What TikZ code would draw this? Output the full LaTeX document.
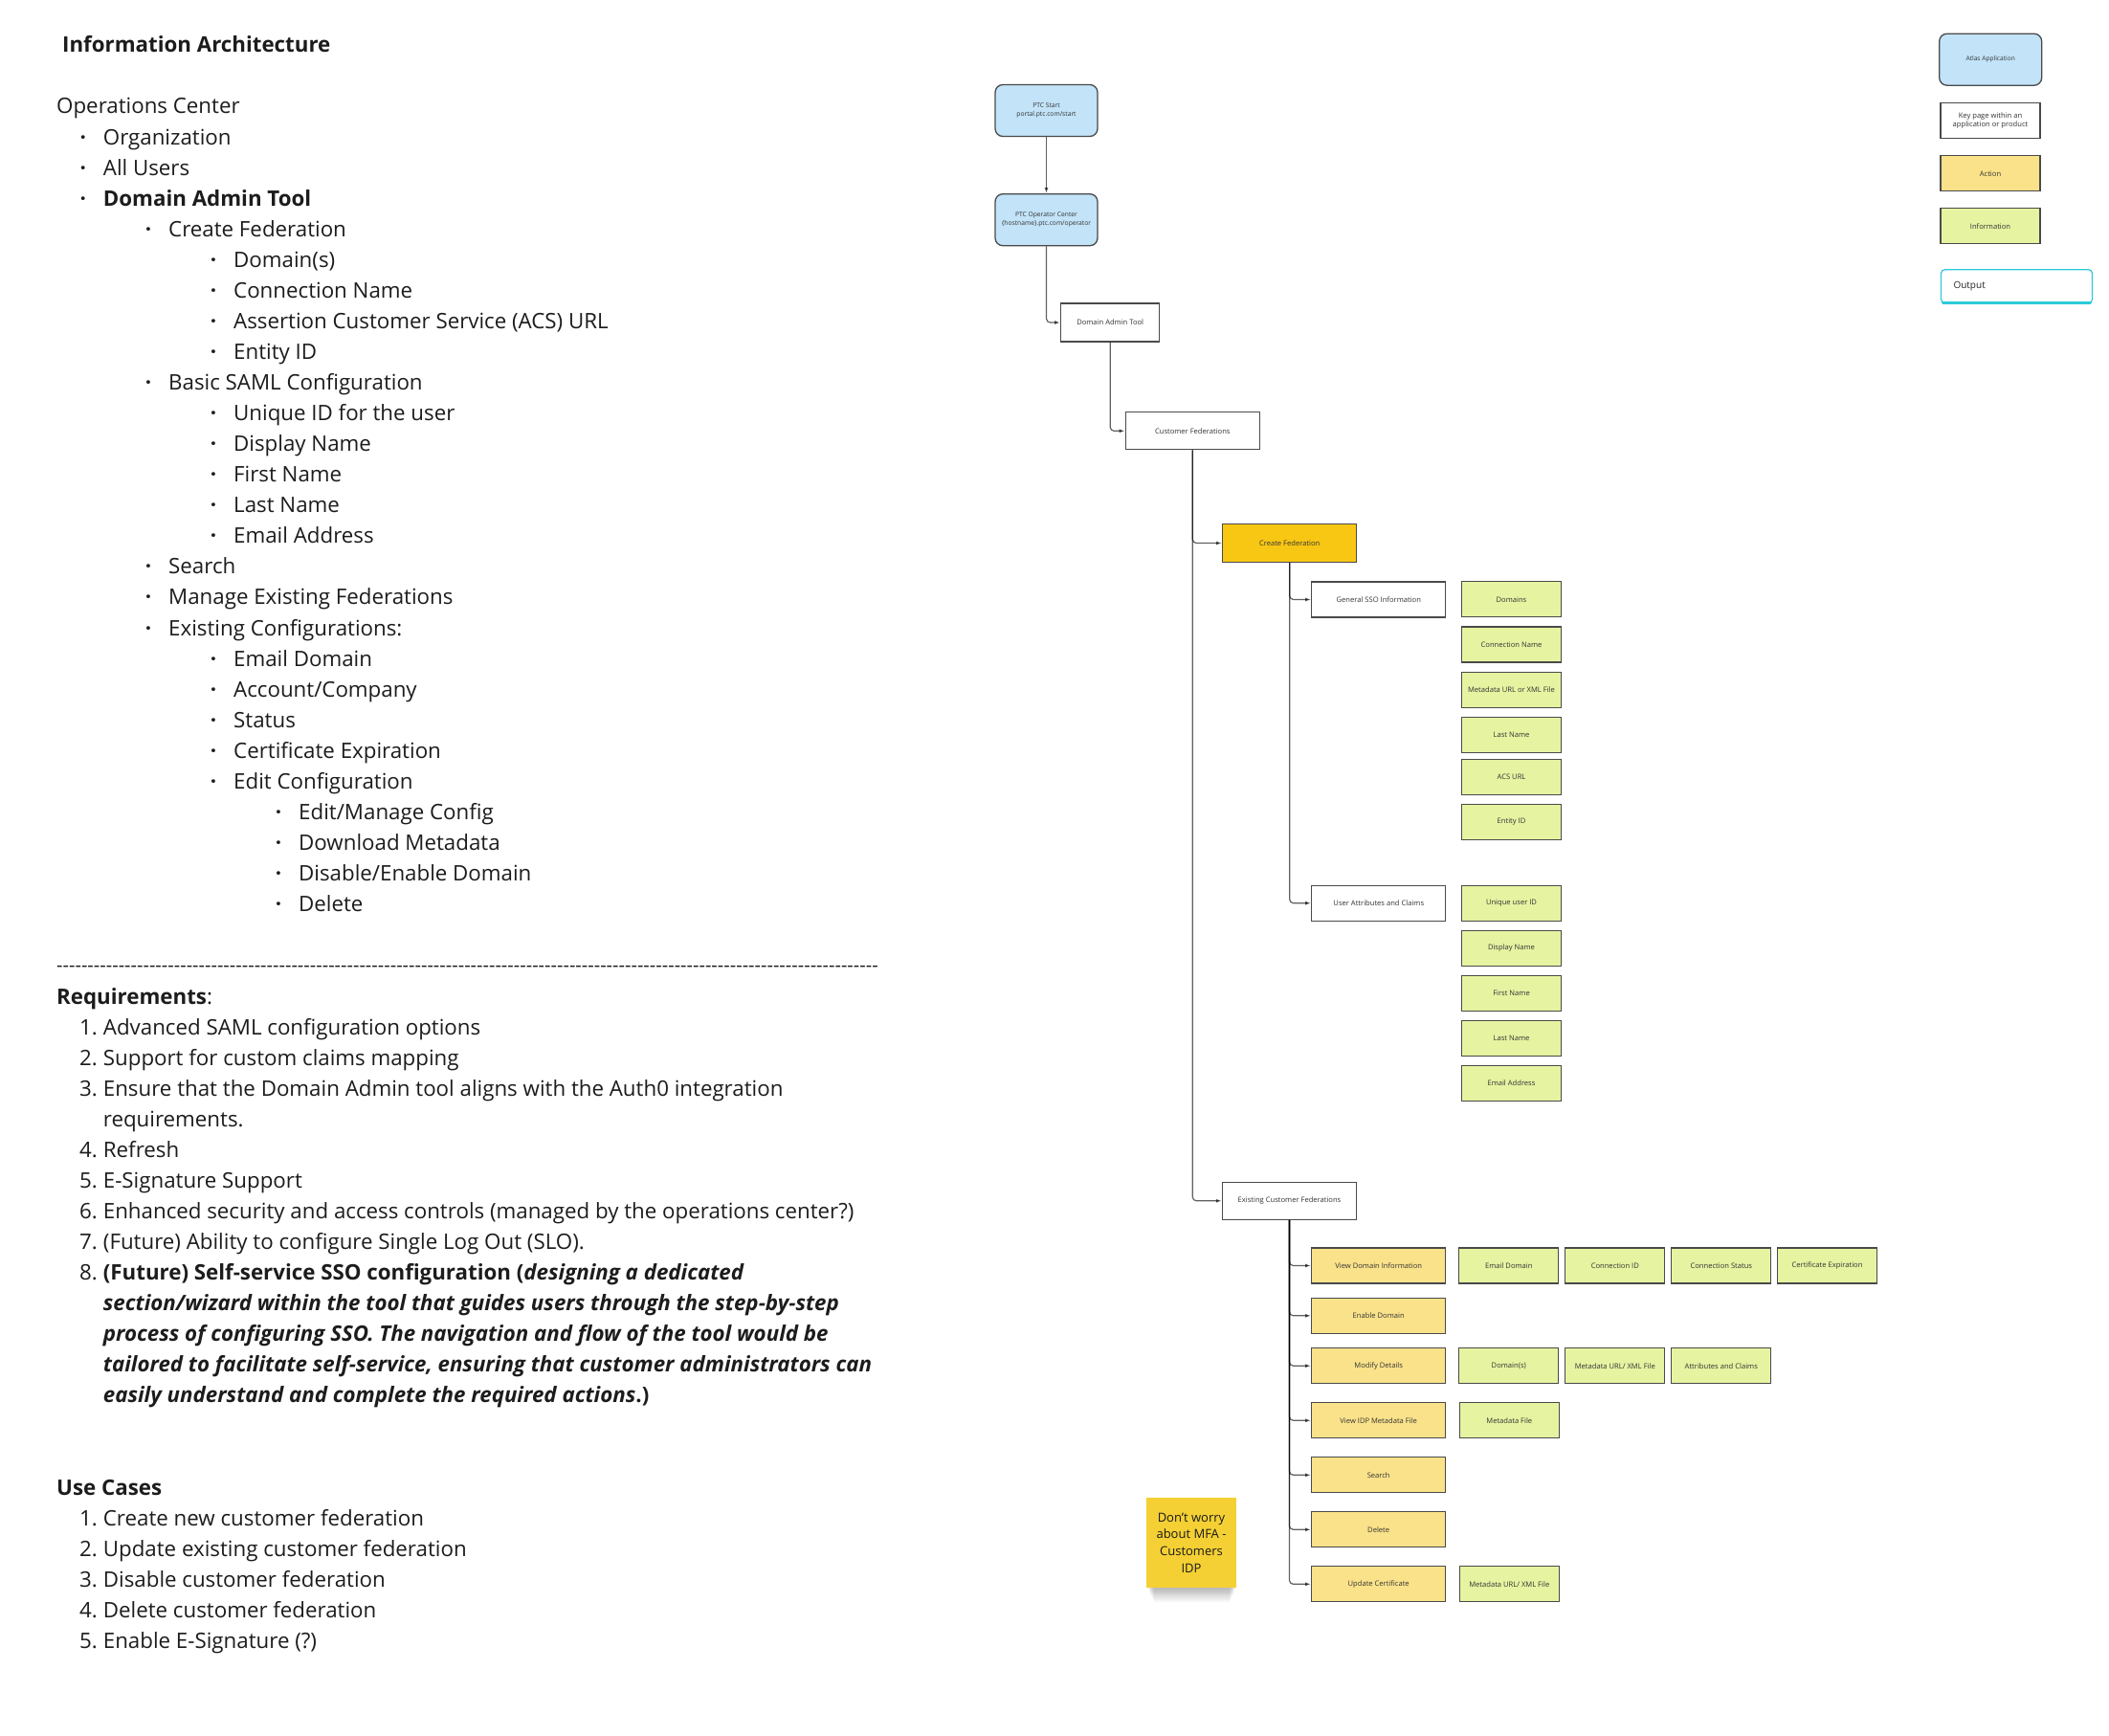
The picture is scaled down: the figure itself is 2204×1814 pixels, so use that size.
\documentclass[tikz,border=0pt]{standalone}
\usepackage{fontspec}
\setmainfont{Open Sans}
\usetikzlibrary{arrows.meta}
\definecolor{appblue}{HTML}{C2E3F8}
\definecolor{actyel}{HTML}{FAE28A}
\definecolor{infogrn}{HTML}{E6F3A1}
\definecolor{createyel}{HTML}{F8C714}
\definecolor{stickyyel}{HTML}{F4D034}
\definecolor{outcyan}{HTML}{2BCBD9}
\definecolor{bord}{HTML}{4A4A4A}
\definecolor{boxtxt}{HTML}{333333}
\definecolor{bodytxt}{HTML}{1C1C1C}
\newcommand\bodyfs{\fontsize{22.3}{32}\selectfont}
\newcommand\boxfs{\fontsize{7.6}{9.5}\selectfont}
\newcommand\appfs{\fontsize{6.7}{9}\selectfont}
\newcommand\ialine[4]{\node[body] (#1) at (#2,119+32.06*#3) {#4};\node[bul] (#1b) at (#2-21,119+32.06*#3) {·};}
\newcommand\rqline[4]{\node[numst] (#1n) at (102,#2) {#3};\node[body] (#1) at (107.7,#2) {#4};}
\tikzset{
  body/.style={anchor=base west, inner sep=0pt, font=\bodyfs, text=bodytxt},
  bul/.style={anchor=base, inner sep=0pt, font=\bodyfs\bfseries, text=bodytxt},
  numst/.style={anchor=base east, inner sep=0pt, font=\bodyfs, text=bodytxt},
  box/.style={draw=bord, line width=1.3pt, inner sep=1pt, font=\boxfs, text=boxtxt, align=center},
  app/.style={box, fill=appblue, rounded corners=8pt, minimum width=107pt, minimum height=54pt, font=\appfs},
  page/.style={box, fill=white, minimum height=38pt},
  act/.style={box, fill=actyel, minimum width=140pt, minimum height=37pt},
  info/.style={box, fill=infogrn, minimum width=104pt, minimum height=37pt},
  conn/.style={draw=black, line width=1.2pt, opacity=0.62, rounded corners=4pt, -{Latex[length=6pt,width=4pt]}},
  sticky/.style={fill=stickyyel, minimum width=94pt, minimum height=94pt, inner sep=0pt, align=center, font=\fontsize{13}{17.7}\selectfont, text=black!90},
  outbox/.style={draw=outcyan, line width=1.2pt, rounded corners=4pt, fill=white, minimum width=158pt, minimum height=35pt, inner xsep=13pt, text width=132pt, align=left, font=\fontsize{10}{12}\selectfont, text=black!85}
}
\begin{document}
\begin{tikzpicture}[x=1pt,y=-1pt]
\useasboundingbox (0,0) rectangle (2204,1814);
\fill[white] (0,0) rectangle (2204,1814);

% ---------- left text ----------
\node[body, font=\bodyfs\bfseries] (title) at (65,54.3) {Information Architecture};
\node[body] (opc0) at (59,119) {Operations Center};
\ialine{l1}{107.7}{1}{Organization}
\ialine{l2}{107.7}{2}{All Users}
\ialine{l3}{107.7}{3}{\textbf{Domain Admin Tool}}
\ialine{l4}{176}{4}{Create Federation}
\ialine{l5}{244}{5}{Domain(s)}
\ialine{l6}{244}{6}{Connection Name}
\ialine{l7}{244}{7}{Assertion Customer Service (ACS) URL}
\ialine{l8}{244}{8}{Entity ID}
\ialine{l9}{176}{9}{Basic SAML Configuration}
\ialine{l10}{244}{10}{Unique ID for the user}
\ialine{l11}{244}{11}{Display Name}
\ialine{l12}{244}{12}{First Name}
\ialine{l13}{244}{13}{Last Name}
\ialine{l14}{244}{14}{Email Address}
\ialine{l15}{176}{15}{Search}
\ialine{l16}{176}{16}{Manage Existing Federations}
\ialine{l17}{176}{17}{Existing Configurations:}
\ialine{l18}{244}{18}{Email Domain}
\ialine{l19}{244}{19}{Account/Company}
\ialine{l20}{244}{20}{Status}
\ialine{l21}{244}{21}{Certificate Expiration}
\ialine{l22}{244}{22}{Edit Configuration}
\ialine{l23}{312}{23}{Edit/Manage Config}
\ialine{l24}{312}{24}{Download Metadata}
\ialine{l25}{312}{25}{Disable/Enable Domain}
\ialine{l26}{312}{26}{Delete}

\node[anchor=base west, inner sep=0pt, font=\fontsize{20}{24}\selectfont, text=bodytxt] (dashes) at (59,1015.5) {\hbox to 858pt{\xleaders\hbox{-}\hfill}};

\node[body] (req) at (59,1049) {\textbf{Requirements}:};
\rqline{r1}{1081}{1.}{Advanced SAML configuration options}
\rqline{r2}{1113}{2.}{Support for custom claims mapping}
\rqline{r3}{1145}{3.}{Ensure that the Domain Admin tool aligns with the Auth0 integration}
\node[body] (r3b) at (107.7,1177) {requirements.};
\rqline{r4}{1209}{4.}{Refresh}
\rqline{r5}{1241}{5.}{E-Signature Support}
\rqline{r6}{1273}{6.}{Enhanced security and access controls (managed by the operations center?)}
\rqline{r7}{1305}{7.}{(Future) Ability to configure Single Log Out (SLO).}
\rqline{r8}{1337}{8.}{\textbf{(Future) Self-service SSO configuration (\textit{designing a dedicated}}}
\node[body, font=\bodyfs\bfseries\itshape] (r8b) at (107.7,1369) {section/wizard within the tool that guides users through the step-by-step};
\node[body, font=\bodyfs\bfseries\itshape] (r8c) at (107.7,1401) {process of configuring SSO. The navigation and flow of the tool would be};
\node[body, font=\bodyfs\bfseries\itshape] (r8d) at (107.7,1433) {tailored to facilitate self-service, ensuring that customer administrators can};
\node[body] (r8e) at (107.7,1465) {\textbf{\textit{easily understand and complete the required actions}.)}};

\node[body] (uc) at (59,1562) {\textbf{Use Cases}};
\rqline{u1}{1594}{1.}{Create new customer federation}
\rqline{u2}{1626}{2.}{Update existing customer federation}
\rqline{u3}{1658}{3.}{Disable customer federation}
\rqline{u4}{1690}{4.}{Delete customer federation}
\rqline{u5}{1722}{5.}{Enable E-Signature (?)}

% ---------- diagram ----------
\node[app] (start) at (1093.5,115.5) {PTC Start\\portal.ptc.com/start};
\node[app] (opc) at (1093.5,229.7) {PTC Operator Center\\\{hostname\}.ptc.com/operator};
\node[page, minimum width=103pt, minimum height=40pt] (dat) at (1160.2,337) {Domain Admin Tool};
\node[page, minimum width=140pt, minimum height=39pt] (cf) at (1246.3,450.3) {Customer Federations};
\node[box, fill=createyel, minimum width=140pt, minimum height=40pt] (cfed) at (1347.7,567.5) {Create Federation};
\node[page, minimum width=140pt, minimum height=37pt] (gsso) at (1440.8,626.5) {General SSO Information};
\node[page, minimum width=140pt, minimum height=37pt] (uac) at (1440.8,943.7) {User Attributes and Claims};

\node[info] (i1) at (1579.5,626.3) {Domains};
\node[info] (i2) at (1579.5,673.5) {Connection Name};
\node[info] (i3) at (1579.5,720.7) {Metadata URL or XML File};
\node[info] (i4) at (1579.5,767.8) {Last Name};
\node[info] (i5) at (1579.5,811.7) {ACS URL};
\node[info] (i6) at (1579.5,858.7) {Entity ID};
\node[info] (i7) at (1579.5,943.7) {Unique user ID};
\node[info] (i8) at (1579.5,990.7) {Display Name};
\node[info] (i9) at (1579.5,1037.7) {First Name};
\node[info] (i10) at (1579.5,1084.7) {Last Name};
\node[info] (i11) at (1579.5,1132) {Email Address};

\node[page, minimum width=140pt, minimum height=39pt] (ecf) at (1347.5,1254.8) {Existing Customer Federations};
\node[act] (vdi) at (1440.7,1322.5) {View Domain Information};
\node[act] (enb) at (1440.7,1374.8) {Enable Domain};
\node[act] (mod) at (1440.7,1427.2) {Modify Details};
\node[act] (vidp) at (1440.7,1484.3) {View IDP Metadata File};
\node[act] (srch) at (1440.7,1541.3) {Search};
\node[act] (del) at (1440.7,1598.3) {Delete};
\node[act] (upd) at (1440.7,1655.3) {Update Certificate};

\node[info] (e1) at (1576.8,1322.5) {Email Domain};
\node[info] (e2) at (1687.8,1322.5) {Connection ID};
\node[info] (e3) at (1798.8,1322.5) {Connection Status};
\node[info] (e4) at (1909.5,1322.5) {Certificate Expiration};
\node[info] (m1) at (1576.8,1427.2) {Domain(s)};
\node[info] (m2) at (1687.8,1427.2) {Metadata URL/ XML File};
\node[info] (m3) at (1798.8,1427.2) {Attributes and Claims};
\node[info] (v1) at (1577.3,1484.3) {Metadata File};
\node[info] (c1) at (1577.3,1655.3) {Metadata URL/ XML File};

% connectors
\draw[conn] (start.south) -- (opc.north);
\draw[conn] (opc.south) |- (dat.west);
\draw[conn] (dat.south) |- (cf.west);
\draw[conn] (cf.south) |- (cfed.west);
\draw[conn] (cf.south) |- (ecf.west);
\draw[conn] (cfed.south) |- (gsso.west);
\draw[conn] (cfed.south) |- (uac.west);
\foreach \a in {vdi,enb,mod,vidp,srch,del,upd} \draw[conn] (ecf.south) |- (\a.west);

% sticky note with shadow
\foreach \k in {0,...,7} \fill[black, opacity=0.035] (1200+\k*0.8,1610) rectangle (1291-\k*0.8,1661+\k*1.8);
\node[sticky] (note) at (1245,1612) {Don't worry\\about MFA -\\Customers\\IDP};

% ---------- legend ----------
\node[app, font=\fontsize{6.6}{8}\selectfont] (lapp) at (2080.2,62.2) {Atlas Application};
\node[page, minimum width=104pt, minimum height=37pt] (lpage) at (2080,126) {Key page within an\\application or product};
\node[box, fill=actyel, minimum width=104pt, minimum height=37pt] (lact) at (2080,181.3) {Action};
\node[info] (linfo) at (2080,236.3) {Information};
\node[outbox] (lout) at (2107.5,299.2) {Output};
\draw[outcyan, line width=2.4pt, line cap=round] ([xshift=2.5pt,yshift=1pt]lout.south west) -- ([xshift=-2.5pt,yshift=1pt]lout.south east);
\end{tikzpicture}
\end{document}
